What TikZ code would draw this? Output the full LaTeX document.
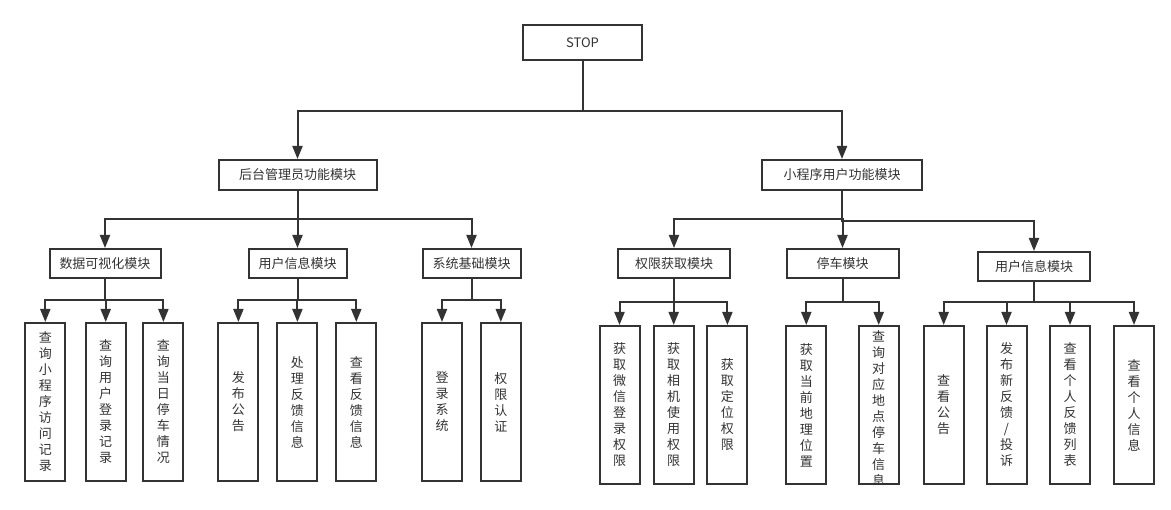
\documentclass[tikz,border=0pt]{standalone}
\usepackage{fontspec}
\setmainfont{Noto Sans CJK SC}
\usetikzlibrary{arrows.meta}
\definecolor{ln}{HTML}{333333}
\definecolor{txt}{HTML}{333333}
\newcommand\boxfont{\fontsize{13}{16}\selectfont}
\begin{document}
\begin{tikzpicture}[x=1pt,y=-1pt,
  box/.style={draw=ln, line width=2pt, rectangle, inner sep=0pt, text=txt, font=\boxfont, fill=white},
  leaf/.style={box, minimum width=40pt, minimum height=158pt, align=center},
  conn/.style={draw=ln, line width=2pt, -{Triangle[width=10pt,length=13pt]}}]
\useasboundingbox (0,0) rectangle (1171,510);
% root
\node[box, minimum width=119pt, minimum height=35pt] (stop) at (582.5,43) {STOP};
% level 1
\node[box, minimum width=158pt, minimum height=30pt] (adm) at (297.5,175) {后台管理员功能模块};
\node[box, minimum width=160pt, minimum height=30pt] (usr) at (842,175) {小程序用户功能模块};
% level 2
\node[box, minimum width=111pt, minimum height=29pt] (vis) at (105,263.5) {数据可视化模块};
\node[box, minimum width=98pt, minimum height=29pt] (uinfo) at (297.5,263.5) {用户信息模块};
\node[box, minimum width=98pt, minimum height=29pt] (sys) at (471.5,263.5) {系统基础模块};
\node[box, minimum width=112pt, minimum height=29pt] (perm) at (674,263.5) {权限获取模块};
\node[box, minimum width=112pt, minimum height=29pt] (park) at (842.5,263.5) {停车模块};
\node[box, minimum width=112pt, minimum height=29pt] (uinfo2) at (1034,266.5) {用户信息模块};
% leaves left
\node[leaf] (l1) at (45.3,402) {查\\询\\小\\程\\序\\访\\问\\记\\录};
\node[leaf] (l2) at (105.7,402) {查\\询\\用\\户\\登\\录\\记\\录};
\node[leaf] (l3) at (163.4,402) {查\\询\\当\\日\\停\\车\\情\\况};
\node[leaf] (l4) at (238.4,402) {发\\布\\公\\告};
\node[leaf] (l5) at (297.4,402) {处\\理\\反\\馈\\信\\息};
\node[leaf] (l6) at (356.3,402) {查\\看\\反\\馈\\信\\息};
\node[leaf] (l7) at (442,402) {登\\录\\系\\统};
\node[leaf] (l8) at (500.8,402) {权\\限\\认\\证};
% leaves right
\node[leaf] (l9) at (619.5,405) {获\\取\\微\\信\\登\\录\\权\\限};
\node[leaf] (l10) at (673.7,405) {获\\取\\相\\机\\使\\用\\权\\限};
\node[leaf] (l11) at (727.4,405) {获\\取\\定\\位\\权\\限};
\node[leaf] (l12) at (806.3,405) {获\\取\\当\\前\\地\\理\\位\\置};
\node[leaf, path picture={\node[align=center, font=\boxfont, text=txt, inner sep=0pt] at ([yshift=-3pt]path picture bounding box.center) {查\\询\\对\\应\\地\\点\\停\\车\\信\\息};}] (l13) at (878.7,405) {};
\node[leaf] (l14) at (943.7,405) {查\\看\\公\\告};
\node[leaf] (l15) at (1006.5,405) {发\\布\\新\\反\\馈\\/\\投\\诉};
\node[leaf] (l16) at (1070,405) {查\\看\\个\\人\\反\\馈\\列\\表};
\node[leaf] (l17) at (1134,405) {查\\看\\个\\人\\信\\息};
% bus coordinates
\coordinate (b0) at (582.5,111);
\coordinate (b1) at (297.5,219);
\coordinate (b2a) at (842,219);
\coordinate (b2b) at (842,221);
\coordinate (c1) at (105,300);
\coordinate (c2) at (297.5,300);
\coordinate (c3) at (471.5,300);
\coordinate (c4) at (674,302);
\coordinate (c5) at (842.5,302);
\coordinate (c6) at (1034,302);
% connectors
\draw[conn] (stop.south) -- (b0) -| (adm.north);
\draw[conn] (stop.south) -- (b0) -| (usr.north);
\draw[conn] (adm.south) -- (b1) -| (vis.north);
\draw[conn] (adm.south) -- (b1) -| (uinfo.north);
\draw[conn] (adm.south) -- (b1) -| (sys.north);
\draw[conn] (usr.south) -- (b2a) -| (perm.north);
\draw[conn] (usr.south) -- (b2a) -| (park.north);
\draw[conn] (usr.south) -- (b2b) -| (uinfo2.north);
\draw[conn] (vis.south) -- (c1) -| (l1.north);
\draw[conn] (vis.south) -- (c1) -| (l2.north);
\draw[conn] (vis.south) -- (c1) -| (l3.north);
\draw[conn] (uinfo.south) -- (c2) -| (l4.north);
\draw[conn] (uinfo.south) -- (c2) -| (l5.north);
\draw[conn] (uinfo.south) -- (c2) -| (l6.north);
\draw[conn] (sys.south) -- (c3) -| (l7.north);
\draw[conn] (sys.south) -- (c3) -| (l8.north);
\draw[conn] (perm.south) -- (c4) -| (l9.north);
\draw[conn] (perm.south) -- (c4) -| (l10.north);
\draw[conn] (perm.south) -- (c4) -| (l11.north);
\draw[conn] (park.south) -- (c5) -| (l12.north);
\draw[conn] (park.south) -- (c5) -| (l13.north);
\draw[conn] (uinfo2.south) -- (c6) -| (l14.north);
\draw[conn] (uinfo2.south) -- (c6) -| (l15.north);
\draw[conn] (uinfo2.south) -- (c6) -| (l16.north);
\draw[conn] (uinfo2.south) -- (c6) -| (l17.north);
\end{tikzpicture}
\end{document}
